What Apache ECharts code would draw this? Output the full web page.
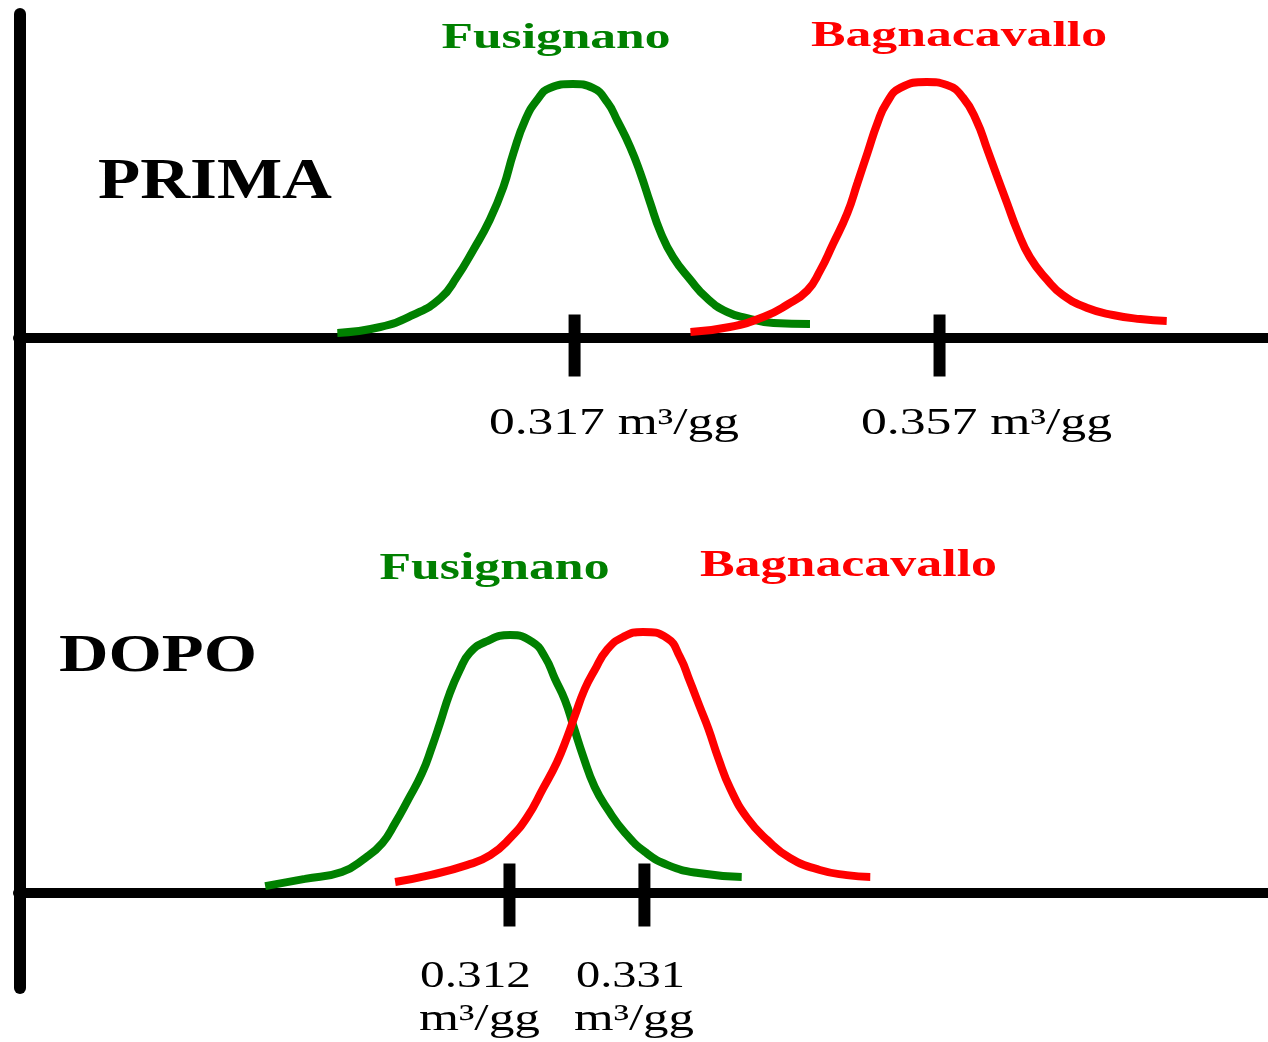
<!DOCTYPE html>
<html>
<head>
<meta charset="utf-8">
<script src="https://cdn.jsdelivr.net/npm/echarts@6/dist/echarts.min.js"></script>
<style>
html,body{margin:0;padding:0;background:#fff;}
#main{width:1268px;height:1042px;}
</style>
</head>
<body>
<div id="main"></div>
<script>
// ---- data ----
const panels = ['PRIMA', 'DOPO'];
const places = ['Fusignano', 'Bagnacavallo'];
const unit = 'm³/gg';
const primaMeans = [0.317, 0.357];
const dopoMeans = [0.312, 0.331];

// curves: [value in m³/gg, relative frequency]
const primaFusignano = [[0.2910,0.020],[0.2957,0.043],[0.2993,0.090],[0.3023,0.155],[0.3041,0.238],[0.3059,0.344],[0.3077,0.461],[0.3092,0.590],[0.3103,0.723],[0.3116,0.852],[0.3129,0.930],[0.3143,0.977],[0.3168,0.992],[0.3190,0.977],[0.3206,0.920],[0.3217,0.848],[0.3231,0.746],[0.3242,0.645],[0.3253,0.527],[0.3264,0.415],[0.3278,0.316],[0.3297,0.227],[0.3315,0.156],[0.3337,0.102],[0.3359,0.078],[0.3388,0.059],[0.3428,0.055]];
const primaBagnacavallo = [[0.3297,0.023],[0.3340,0.043],[0.3377,0.082],[0.3403,0.130],[0.3425,0.185],[0.3439,0.262],[0.3453,0.365],[0.3469,0.488],[0.3480,0.605],[0.3491,0.723],[0.3502,0.840],[0.3512,0.918],[0.3527,0.977],[0.3556,1.000],[0.3578,0.988],[0.3596,0.938],[0.3611,0.845],[0.3622,0.740],[0.3633,0.632],[0.3644,0.527],[0.3655,0.422],[0.3669,0.316],[0.3688,0.227],[0.3705,0.168],[0.3732,0.117],[0.3760,0.090],[0.3790,0.074],[0.3819,0.066]];
const dopoFusignano = [[0.2776,0.025],[0.2832,0.053],[0.2884,0.080],[0.2917,0.135],[0.2941,0.193],[0.2959,0.271],[0.2977,0.361],[0.2997,0.467],[0.3011,0.570],[0.3022,0.660],[0.3036,0.779],[0.3050,0.869],[0.3064,0.936],[0.3086,0.979],[0.3121,1.006],[0.3152,0.979],[0.3170,0.920],[0.3184,0.835],[0.3198,0.752],[0.3210,0.650],[0.3224,0.530],[0.3240,0.412],[0.3259,0.322],[0.3283,0.232],[0.3311,0.158],[0.3343,0.107],[0.3386,0.076],[0.3447,0.061]];
const dopoBagnacavallo = [[0.2959,0.041],[0.3008,0.068],[0.3060,0.107],[0.3093,0.146],[0.3121,0.213],[0.3145,0.295],[0.3167,0.405],[0.3187,0.510],[0.3201,0.605],[0.3212,0.690],[0.3226,0.795],[0.3240,0.869],[0.3257,0.947],[0.3280,0.998],[0.3308,1.018],[0.3342,0.994],[0.3360,0.920],[0.3374,0.825],[0.3388,0.725],[0.3400,0.640],[0.3414,0.525],[0.3431,0.405],[0.3455,0.290],[0.3483,0.205],[0.3515,0.135],[0.3557,0.088],[0.3595,0.068],[0.3628,0.061]];

// ---- styling ----
const GREEN = '#008000', RED = '#ff0000', BLACK = '#000000';
const FAMILY = 'Liberation Serif';

const measureCtx = document.createElement('canvas').getContext('2d');
function stretchedText(text, weight, size, color, cx, cy, targetWidth) {
  measureCtx.font = weight + ' ' + size + 'px "' + FAMILY + '"';
  const w = measureCtx.measureText(text).width || 1;
  return {
    type: 'text', x: cx, y: cy, scaleX: targetWidth / w, scaleY: 1, z: 100,
    style: { text: text, x: 0, y: 0, fontFamily: FAMILY, fontSize: size, fontWeight: weight,
      fill: color, align: 'center', verticalAlign: 'middle',
      textAlign: 'center', textVerticalAlign: 'middle' }
  };
}

const fmt = v => v.toFixed(3);
const texts = [
  stretchedText(panels[0], 'bold', 56, BLACK, 215, 183.5, 234),
  stretchedText(panels[1], 'bold', 53, BLACK, 158, 657.5, 198),
  stretchedText(places[0], 'bold', 35, GREEN, 556, 38.5, 229),
  stretchedText(places[1], 'bold', 35, RED, 959, 36.5, 296),
  stretchedText(places[0], 'bold', 37, GREEN, 494.5, 569.5, 230),
  stretchedText(places[1], 'bold', 37, RED, 848.5, 566.5, 297),
  stretchedText(fmt(primaMeans[0]) + ' ' + unit, 'normal', 37, BLACK, 614, 424.5, 250),
  stretchedText(fmt(primaMeans[1]) + ' ' + unit, 'normal', 37, BLACK, 986.5, 424.5, 251),
  stretchedText(fmt(dopoMeans[0]), 'normal', 37, BLACK, 475.5, 977.5, 111),
  stretchedText(unit, 'normal', 37, BLACK, 479.5, 1020, 121),
  stretchedText(fmt(dopoMeans[1]), 'normal', 37, BLACK, 630.5, 977.5, 109),
  stretchedText(unit, 'normal', 37, BLACK, 634, 1020, 120)
];

function hiddenY(grid) {
  return { type: 'value', gridIndex: grid, min: 0, max: 1.25, show: false };
}
function xAx(grid, min, max) {
  return { type: 'value', gridIndex: grid, min: min, max: max,
    axisLine: { show: true, onZero: false, lineStyle: { color: BLACK, width: 10 } },
    axisTick: { show: false }, axisLabel: { show: false }, splitLine: { show: false } };
}
function curve(data, color, xi) {
  return { type: 'line', xAxisIndex: xi, yAxisIndex: xi, data: data, smooth: 0.5,
    showSymbol: false, clip: false, lineStyle: { color: color, width: 8 }, z: 3 };
}
function ticks(means, xi, h, off) {
  return { type: 'scatter', xAxisIndex: xi, yAxisIndex: xi, clip: false,
    data: means.map(m => [m, 0]), symbol: 'rect', symbolSize: [12, h], symbolOffset: [0, off],
    itemStyle: { color: BLACK, opacity: 1 }, z: 4, silent: true };
}

const option = {
  animation: false,
  backgroundColor: '#ffffff',
  grid: [
    { left: 18, width: 1250, top: 18, height: 320 },
    { left: 18, width: 1250, top: 572.5, height: 320 },
    { left: 20, width: 100, top: 14, height: 974 }
  ],
  xAxis: [
    xAx(0, 0.256, 0.393),
    xAx(1, 0.2428, 0.4188),
    { type: 'value', gridIndex: 2, min: 0, max: 1, show: false }
  ],
  yAxis: [
    hiddenY(0), hiddenY(1),
    { type: 'value', gridIndex: 2, min: 0, max: 1,
      axisLine: { show: true, lineStyle: { color: BLACK, width: 12 } },
      axisTick: { show: false }, axisLabel: { show: false }, splitLine: { show: false } }
  ],
  series: [
    curve(primaFusignano, GREEN, 0),
    curve(primaBagnacavallo, RED, 0),
    curve(dopoFusignano, GREEN, 1),
    curve(dopoBagnacavallo, RED, 1),
    ticks(primaMeans, 0, 62, 7.5),
    ticks(dopoMeans, 1, 63, 2.5)
  ],
  graphic: texts
};

const chart = echarts.init(document.getElementById('main'));
chart.setOption(option);
</script>
</body>
</html>
